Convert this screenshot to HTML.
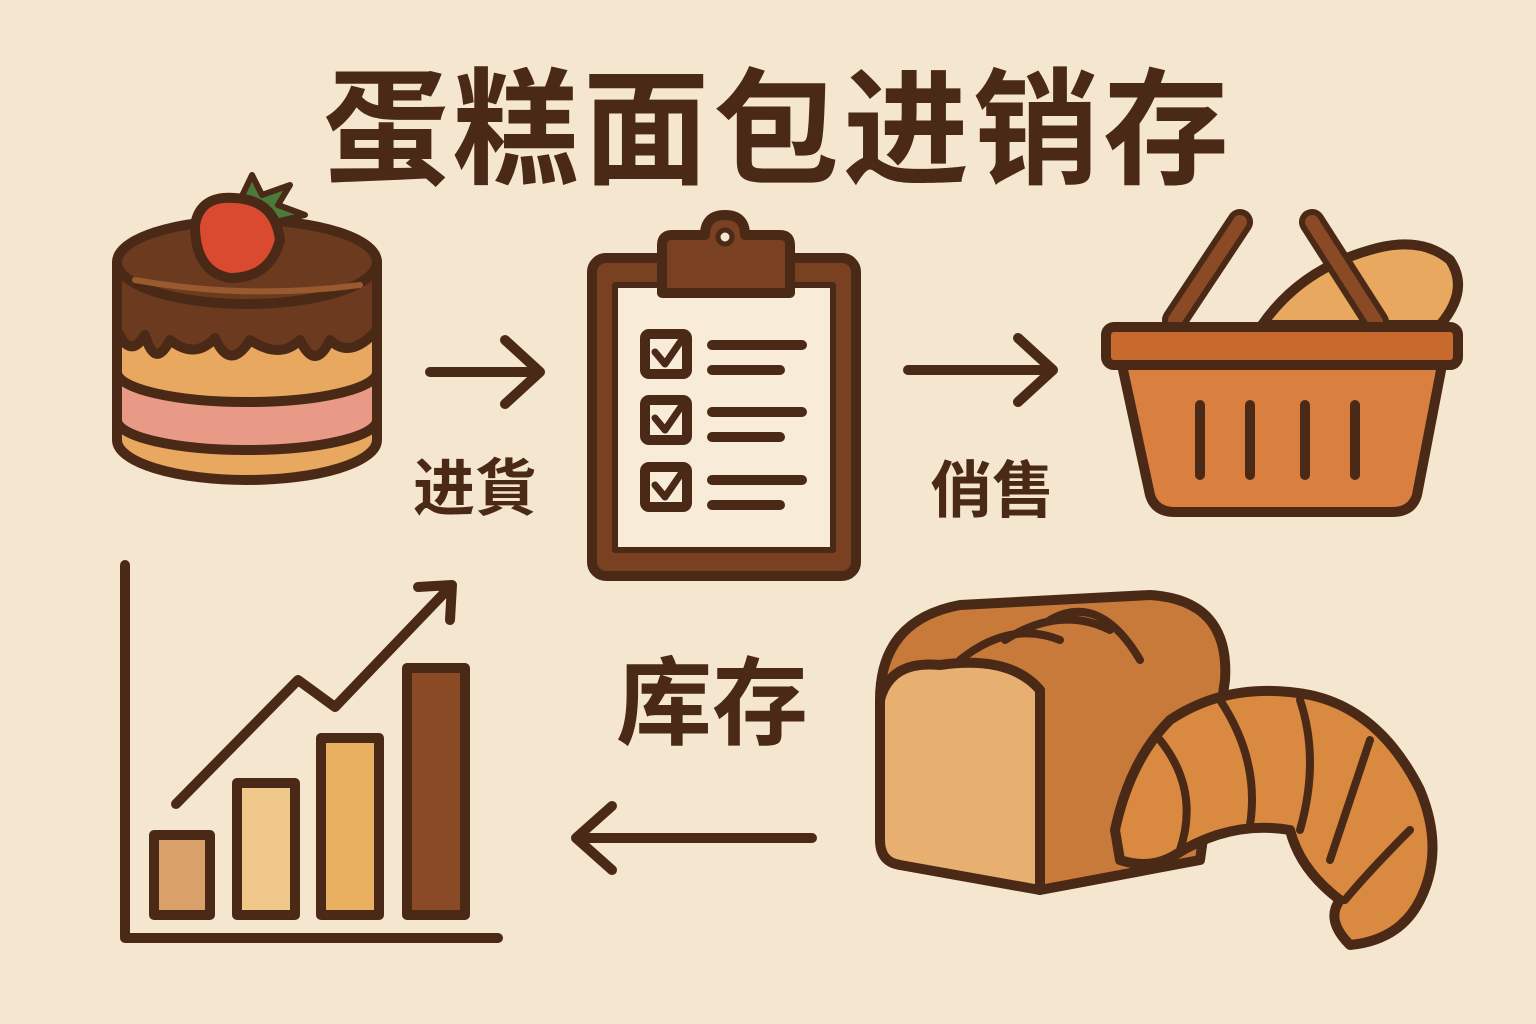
<!DOCTYPE html>
<html><head><meta charset="utf-8"><style>
html,body{margin:0;padding:0;background:#f5e6cf;}
svg{display:block}
text{font-family:"Liberation Sans","Noto Sans CJK SC",sans-serif;font-weight:bold;fill:#4a2a17}
</style></head><body>
<svg width="1536" height="1024" viewBox="0 0 1536 1024" xmlns="http://www.w3.org/2000/svg">
<rect width="1536" height="1024" fill="#f5e6cf"/>
<text x="778" y="174" font-size="126" text-anchor="middle" letter-spacing="4">蛋糕面包进销存</text>
<g stroke="#4a2a17" stroke-width="10" stroke-linecap="round" stroke-linejoin="round">
<!-- cake -->
<path d="M117 300 L117 440 A130 40 0 0 0 377 440 L377 300 Z" fill="#e8a860"/>
<path d="M117 372 L117 420 A130 30 0 0 0 377 420 L377 372 A130 30 0 0 1 117 372Z" fill="#e89a86"/>
<path d="M117 262 L117 330 Q130 360 145 335 Q155 370 170 340 Q195 360 215 338 Q230 372 250 340 Q280 360 300 340 Q315 372 330 340 Q350 360 377 330 L377 262 Z" fill="#6b3a1f"/>
<ellipse cx="247" cy="262" rx="130" ry="42" fill="#6b3a1f"/>
<path d="M135 280 Q247 300 360 285" fill="none" stroke="#9a5a30" stroke-width="6"/>
<path d="M240 200 L252 175 L262 195 L290 185 L278 205 L305 215 L275 222Z" fill="#4d7a3a" stroke-width="6"/>
<path d="M195 225 Q200 195 235 198 Q275 200 280 240 Q270 278 230 278 Q195 272 195 225Z" fill="#d94a2e"/>
<!-- arrows -->
<path d="M430 372 H538 M505 340 L540 372 L505 404" fill="none"/>
<path d="M908 370 H1052 M1018 338 L1053 370 L1018 402" fill="none"/>
<path d="M812 838 H578 M612 806 L576 838 L612 870" fill="none"/>
<!-- clipboard -->
<rect x="592" y="258" width="264" height="318" rx="14" fill="#7a4022"/>
<rect x="615" y="285" width="218" height="265" fill="#f8ecd8" stroke-width="6"/>
<path d="M662 255 V245 Q662 235 672 235 H705 Q705 215 725 215 Q745 215 745 235 H780 Q790 235 790 245 V293 H662Z" fill="#7a4022"/>
<circle cx="725" cy="237" r="7" fill="#f5e6cf" stroke-width="5"/>
<g fill="#f8ecd8">
<rect x="645" y="334" width="42" height="40" rx="4"/><rect x="645" y="400" width="42" height="40" rx="4"/><rect x="645" y="467" width="42" height="40" rx="4"/></g>
<path d="M655 352 L665 364 L683 338 M655 418 L665 430 L683 404 M655 485 L665 497 L683 471" fill="none" stroke-width="7"/>
<path d="M712 345 H802 M712 370 H780 M712 412 H802 M712 437 H780 M712 480 H802 M712 505 H780" fill="none"/>
<!-- basket -->
<path d="M1262 325 Q1300 270 1370 250 Q1420 235 1450 260 Q1470 290 1440 325Z" fill="#e8a860"/>
<path d="M1175 320 L1240 222 M1312 222 L1376 322" stroke-width="26"/>
<path d="M1175 320 L1240 222 M1312 222 L1376 322" stroke="#8a4a25" stroke-width="14"/>
<path d="M1122 365 L1150 495 Q1155 512 1175 512 H1392 Q1412 512 1417 495 L1442 365Z" fill="#d98040"/>
<rect x="1106" y="327" width="352" height="38" rx="8" fill="#c8692e"/>
<path d="M1200 405 V475 M1250 405 V475 M1305 405 V475 M1355 405 V475" fill="none"/>
<!-- chart -->
<path d="M125 565 V938 H498" fill="none"/>
<rect x="154" y="835" width="56" height="80" fill="#d9a06a"/>
<rect x="237" y="783" width="58" height="132" fill="#f0c88a"/>
<rect x="321" y="738" width="58" height="177" fill="#e8b060"/>
<rect x="407" y="668" width="58" height="247" fill="#8a4a25"/>
<path d="M176 804 L298 680 L335 707 L450 587 M418 587 L452 585 L450 620" fill="none"/>
<!-- bread loaf -->
<path d="M880 700 Q880 620 960 605 L1150 595 Q1230 600 1225 680 L1200 860 L1040 890 Z" fill="#c87a3a"/>
<path d="M880 700 Q890 660 940 665 Q1010 655 1040 690 L1040 890 L900 865 Q880 862 880 840Z" fill="#e8b070"/>
<path d="M960 660 Q1010 620 1060 640 M1005 640 Q1060 605 1110 630 M1050 620 Q1100 592 1140 660" fill="none" stroke-width="8"/>
<!-- croissant -->
<path d="M1115 830 Q1130 760 1170 720 Q1230 680 1310 695 Q1380 710 1420 790 Q1445 850 1420 900 Q1400 940 1350 945 Q1325 920 1340 900 Q1300 870 1290 830 Q1230 820 1175 855 Q1150 870 1120 860Z" fill="#d98a40"/>
<path d="M1160 740 Q1200 790 1180 850 M1220 700 Q1260 760 1250 825 M1300 700 Q1320 760 1300 830 M1370 740 Q1350 800 1330 860 M1410 830 Q1370 870 1345 900" fill="none" stroke-width="8"/>
</g>
<text x="475" y="510" font-size="62" text-anchor="middle">进貨</text>
<text x="992" y="512" font-size="62" text-anchor="middle">俏售</text>
<text x="712" y="737" font-size="96" text-anchor="middle">库存</text>
</svg>
</body></html>
